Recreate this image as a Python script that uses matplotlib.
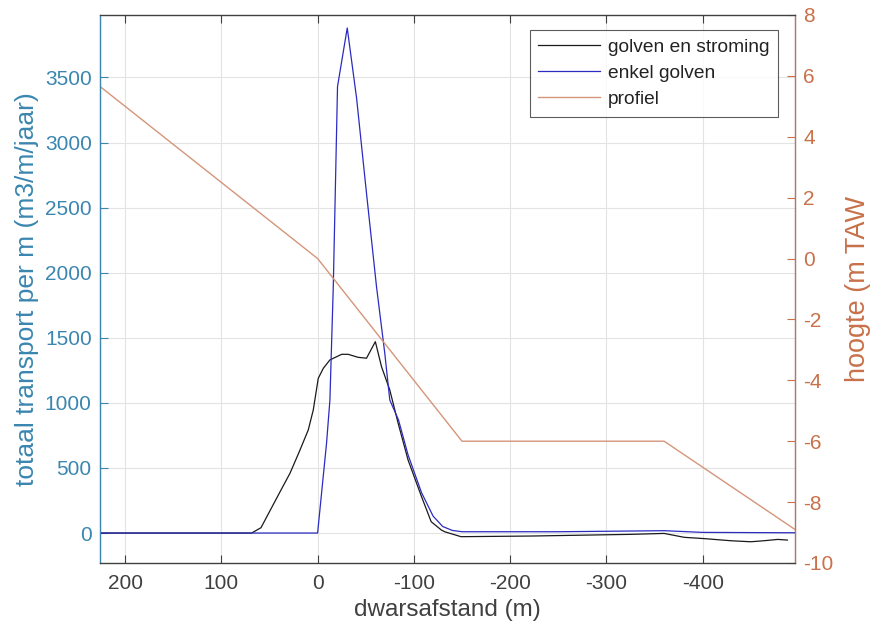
import matplotlib
matplotlib.use('Agg')
import matplotlib.pyplot as plt

plt.rcParams['font.family'] = ['Liberation Sans', 'DejaVu Sans']
plt.rcParams['axes.unicode_minus'] = False

# Transport golven en stroming (zwart)
x_stroming = [226, 68.5, 58.8, 39, 28.7, 19, 9.7, 4.5, -0.7, -6, -12.8, -25, -31.8, -42, -50.8,
              -60, -66.4, -75, -83.7, -94, -108, -118, -128.6, -132, -149, -222, -326, -360,
              -381, -402, -429, -450, -464, -478, -488]
y_stroming = [0, 0, 41, 317, 459, 625, 792, 945, 1189, 1266, 1330, 1373, 1373, 1350, 1343,
              1470, 1278, 1099, 843, 561, 279, 87, 23, 10, -28, -23, -10, -3,
              -33, -43, -59, -67, -59, -49, -54]

# Transport enkel golven (blauw)
x_golven = [226, 0, -9.3, -12.8, -16.3, -20.7, -30.8, -40.5, -50.8, -61.2, -69.8, -75, -84, -94,
            -108, -120, -130, -140, -150, -250, -360, -400, -496]
y_golven = [0, 0, 690, 1022, 1893, 3430, 3880, 3341, 2611, 1893, 1381, 1022, 870, 600,
            310, 130, 50, 20, 10, 10, 18, 5, 2]

# Profiel (m TAW)
x_profiel = [226, 0, -150, -360, -496]
z_profiel = [5.65, 0, -6, -6, -8.9]

blauw_as = '#3A86B0'
oranje_as = '#C8714A'
grijs = '#404040'

fig = plt.figure(figsize=(8.73, 6.31), dpi=100)
ax = fig.add_axes([0.1146, 0.1078, 0.7961, 0.8685])
ax2 = ax.twinx()

l1, = ax.plot(x_stroming, y_stroming, color='#1a1a1a', linewidth=0.9, label='golven en stroming')
l2, = ax.plot(x_golven, y_golven, color='#2B2BC0', linewidth=0.9, label='enkel golven')
l3, = ax2.plot(x_profiel, z_profiel, color='#D4957A', linewidth=1.0, label='profiel')

ax.set_xlim(226, -496)
ax.set_ylim(-230, 3980)
ax2.set_ylim(-10, 8)

ax.set_xticks([200, 100, 0, -100, -200, -300, -400])
ax.set_yticks(range(0, 3501, 500))
ax2.set_yticks(range(-10, 9, 2))

ax.grid(True, color='#e3e3e3', linewidth=0.8)
ax.set_axisbelow(True)

ax.tick_params(axis='x', direction='in', top=True, length=6, labelsize=15,
               colors=grijs, labelcolor=grijs, pad=8)
ax.tick_params(axis='y', direction='in', length=6, labelsize=15,
               colors=blauw_as, labelcolor=blauw_as, pad=6)
ax2.tick_params(axis='y', direction='in', length=6, labelsize=15,
                colors=oranje_as, labelcolor=oranje_as, pad=6)

ax2.spines['left'].set_color(blauw_as)
ax2.spines['right'].set_color(oranje_as)
ax2.spines['top'].set_color(grijs)
ax2.spines['bottom'].set_color(grijs)
for sp in ax2.spines.values():
    sp.set_linewidth(0.9)

ax.set_xlabel('dwarsafstand (m)', fontsize=17.5, color=grijs, labelpad=4)
ax.set_ylabel('totaal transport per m (m3/m/jaar)', fontsize=19, color=blauw_as, labelpad=4)
ax2.set_ylabel('hoogte (m TAW', fontsize=19.5, color=oranje_as, labelpad=8)

leg = ax2.legend(handles=[l1, l2, l3], loc='upper right', bbox_to_anchor=(0.976, 0.973),
                 fontsize=13.8, handlelength=3.2, frameon=True, fancybox=False,
                 borderaxespad=0, borderpad=0.45, labelspacing=0.45, handletextpad=0.45)
leg.get_frame().set_edgecolor('#333333')
leg.get_frame().set_linewidth(0.8)
for txt in leg.get_texts():
    txt.set_color('#222222')

plt.savefig('out.png', dpi=100)
